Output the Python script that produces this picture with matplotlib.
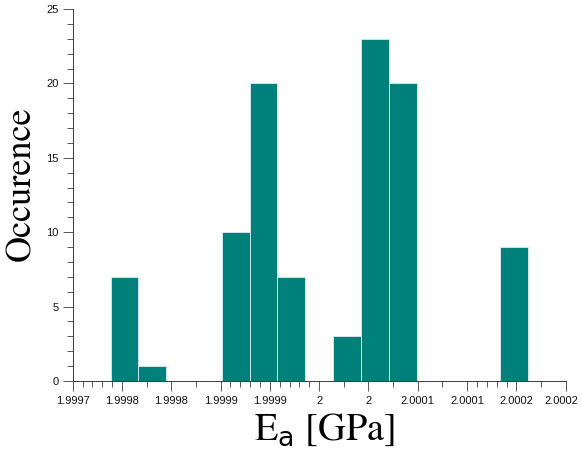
import numpy as np
import matplotlib
matplotlib.use('Agg')
import matplotlib.pyplot as plt
import matplotlib.transforms as mtransforms
from matplotlib.ticker import FixedLocator, FuncFormatter

# Histogram data
bin_min = 1.9997385
bin_max = 2.0001615
counts = [7, 1, 0, 0, 10, 20, 7, 0, 3, 23, 20, 0, 0, 0, 9]

x_lim = (1.9997, 2.0002)
y_lim = (0, 25)
x_major = np.linspace(1.9997, 2.0002, 11)
# number of minor ticks per major interval (irregular in the original)
minor_per_interval = [4, 1, 1, 4, 4, 1, 1, 1, 4, 1]

bar_color = '#00807b'
axis_color = '#3a3a3a'

edges = np.linspace(bin_min, bin_max, len(counts) + 1)

fig = plt.figure(figsize=(5.82, 4.5), dpi=100)
ax = fig.add_axes([0.1249, 0.1533, 0.972 - 0.1249, 0.98 - 0.1533])

ax.bar(edges[:-1], counts, width=np.diff(edges), align='edge',
       color=bar_color, edgecolor='#cfe6e4', linewidth=0.7, zorder=2)

ax.set_xlim(*x_lim)
ax.set_ylim(*y_lim)

# spines
for s in ['top', 'right']:
    ax.spines[s].set_visible(False)
for s in ['left', 'bottom']:
    ax.spines[s].set_color(axis_color)
    ax.spines[s].set_linewidth(0.7)


def fmt(v, pos):
    # round half up, like the original labels
    s = f'{v + 1e-10:.4f}'
    return s.rstrip('0').rstrip('.')


# x ticks
ax.xaxis.set_major_locator(FixedLocator(x_major))
ax.xaxis.set_major_formatter(FuncFormatter(fmt))
minors = []
for i, n in enumerate(minor_per_interval):
    a, b = x_major[i], x_major[i + 1]
    minors += list(np.linspace(a, b, n + 2)[1:-1])
ax.xaxis.set_minor_locator(FixedLocator(minors))

# y ticks
ax.set_yticks(np.arange(0, 26, 5))
ax.set_yticks(np.arange(0, 26, 1), minor=True)

ax.tick_params(which='major', length=7, width=0.6, color=axis_color,
               labelsize=8, labelcolor='#111111')
ax.tick_params(which='minor', length=4, width=0.6, color=axis_color)
ax.tick_params(axis='x', which='major', pad=4)
ax.tick_params(axis='y', which='major', pad=3)
for lab in ax.get_xticklabels() + ax.get_yticklabels():
    lab.set_family('Liberation Sans')

# nudge the last x label so it stays inside the figure
last = ax.xaxis.get_major_ticks()[-1].label1
last.set_transform(last.get_transform() +
                   mtransforms.ScaledTranslation(-4 / 100, 0, fig.dpi_scale_trans))

plt.rcParams['mathtext.fontset'] = 'stix'
ax.set_xlabel(r'E$_{\mathrm{a}}$ [GPa]', fontsize=27.5, family='STIXGeneral')
ax.set_ylabel('Occurence', fontsize=26, family='STIXGeneral')
ax.xaxis.set_label_coords(0.51, -0.081)
ax.yaxis.set_label_coords(-0.069, 0.531)

fig.savefig('out.png', dpi=100)
